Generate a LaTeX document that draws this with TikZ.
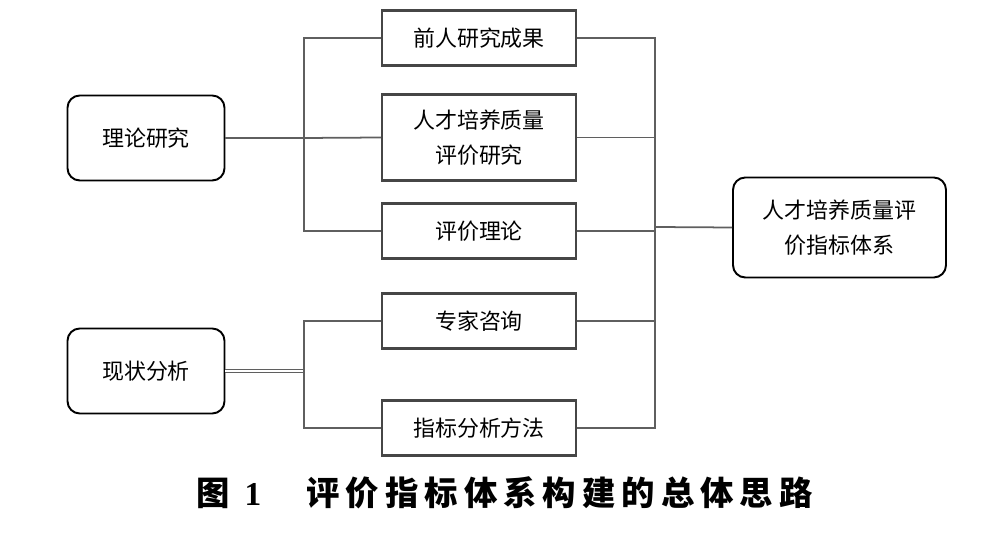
\documentclass[tikz,border=0pt]{standalone}
\usepackage{fontspec}
\usepackage{tikz}
\newfontfamily\cjk{Noto Sans CJK SC}
\newfontfamily\cjkcap{Noto Sans CJK SC}[LetterSpace=18]
\newfontfamily\numfont{Liberation Serif}
\definecolor{linecolor}{RGB}{95, 95, 95}
\definecolor{boxcolor}{RGB}{70, 70, 70}

\begin{document}
\begin{tikzpicture}[
    source/.style={draw=black, line width=1.1pt, rounded corners=7pt, minimum width=3.14cm, minimum height=1.7cm, align=center, font=\cjk\fontsize{12.5}{20}\selectfont},
    item/.style={draw=boxcolor, line width=1.2pt, minimum width=3.88cm, minimum height=1.1cm, align=center, font=\cjk\fontsize{12.5}{20}\selectfont},
    target/.style={source, minimum width=4.26cm, minimum height=2cm},
    link/.style={draw=linecolor, line width=1pt}
]
    \useasboundingbox (0, 0) rectangle (19.84, 10.74);

    % Sources
    \node[source] (theory) at (2.92, 7.98) {理论研究};
    \node[source] (status) at (2.92, 3.32) {现状分析};

    % Middle items
    \node[item] (prior) at (9.58, 9.98) {前人研究成果};
    \node[item, minimum height=1.72cm] (quality) at (9.58, 7.99) {人才培养质量\\评价研究};
    \node[item] (evaltheory) at (9.58, 6.12) {评价理论};
    \node[item] (expert) at (9.58, 4.32) {专家咨询};
    \node[item] (method) at (9.58, 2.18) {指标分析方法};

    % Target
    \node[target] (system) at (16.79, 6.19) {人才培养质量评\\价指标体系};

    % Bus points
    \coordinate (busA) at (6.08, 7.98);
    \coordinate (busB) at (6.08, 3.32);
    \coordinate (busR) at (13.1, 6.2);

    % Left connectors
    \draw[link, line width=1.6pt] (theory) -- (busA);
    \draw[link] (busA) |- (prior.west);
    \draw[link] (busA) -- (quality.west);
    \draw[link] (busA) |- (evaltheory.west);
    \draw[link, double=white, double distance=0.8pt, line width=0.7pt] (status) -- (busB);
    \draw[link] (busB) |- (expert.west);
    \draw[link] (busB) |- (method.west);

    % Right connectors
    \draw[link] (prior.east) -| (busR);
    \draw[link] (quality.east) -| (busR);
    \draw[link] (evaltheory.east) -| (busR);
    \draw[link] (expert.east) -| (busR);
    \draw[link] (method.east) -| (busR);
    \draw[link] (busR) -- (system.west);

    % Caption
    \node[anchor=west, inner sep=0pt, font=\fontsize{19}{22}\selectfont\bfseries] (caption) at (3.92, 0.88)
        {\cjk 图\hspace{0.3cm}{\numfont 1}\hspace{0.9cm}\cjkcap 评价指标体系构建的总体思路};
\end{tikzpicture}
\end{document}
